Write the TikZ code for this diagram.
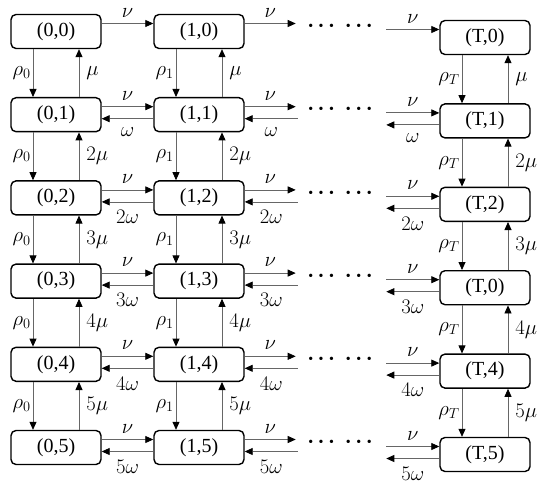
\documentclass[tikz,border=0pt]{standalone}
\usepackage{fontspec}
\setmainfont{Liberation Serif}
\usetikzlibrary{arrows.meta}

\begin{document}
\begin{tikzpicture}[
  x=1pt,y=1pt,
  state/.style={rectangle,rounded corners=5pt,draw=black,line width=1.4pt,
                minimum width=90pt,minimum height=34pt,inner sep=0pt,
                font=\fontsize{20}{22}\selectfont},
  arr/.style={-{Triangle[length=8pt,width=7pt,black]},line width=0.8pt,black!60},
  lbl/.style={text=black,font=\fontsize{21}{23}\selectfont,inner sep=2pt},
  dotlbl/.style={font=\fontsize{14}{16}\selectfont,inner sep=0pt},
]
\useasboundingbox (0,0) rectangle (548,-489);

% states: column 0, column 1 and column T
\foreach \i/\k in {0/0,1/1,2/2,3/0,4/4,5/5} {
  \node[state] (a\i) at (56,{-31.5-83.2*\i}) {(0,\i)};
  \node[state] (b\i) at (199,{-31.5-83.2*\i}) {(1,\i)};
  \node[state] (t\i) at (485,{-37.5-83.4*\i}) {(T,\k)};
  \node[dotlbl] (dots\i) at (340,{-27.5-83.2*\i})
    {•\hspace{5.5pt}•\hspace{5.5pt}•\hspace{12pt}•\hspace{5.5pt}•\hspace{5.5pt}•};
  % loose ends next to the dots
  \coordinate (bn\i) at ([xshift=51pt,yshift=8pt]b\i.east);
  \coordinate (bw\i) at ([xshift=53pt,yshift=-4pt]b\i.east);
  \coordinate (tn\i) at ([xshift=-53pt,yshift=8pt]t\i.west);
  \coordinate (tw\i) at ([xshift=-53pt,yshift=-4pt]t\i.west);
}

% vertical transitions
\foreach \i/\j/\k in {0/1/{},1/2/2,2/3/3,3/4/4,4/5/5} {
  \foreach \c/\r in {a/0,b/1,t/T} {
    \draw[arr] ([xshift=-23pt]\c\i.south) -- node[lbl,left=0pt]{$\rho_{\r}$}
      ([xshift=-23pt]\c\j.north);
    \draw[arr] ([xshift=23pt]\c\j.north) -- node[lbl,right=5pt]{$\k\mu$}
      ([xshift=23pt]\c\i.south);
  }
}

% top row: arrivals only
\draw[arr] ([yshift=8pt]a0.east) -- node[lbl,above=4pt]{$\nu$} ([yshift=8pt]b0.west);
\draw[arr] ([yshift=8pt]b0.east) -- node[lbl,above=4pt]{$\nu$} (bn0);
\draw[arr] (tn0) -- node[lbl,above=4pt]{$\nu$} ([yshift=8pt]t0.west);

% other rows: arrivals and departures
\foreach \i/\k in {1/{},2/2,3/3,4/4,5/5} {
  \draw[arr] ([yshift=8pt]a\i.east) -- node[lbl,above=4pt]{$\nu$} ([yshift=8pt]b\i.west);
  \draw[arr] ([yshift=-4pt]b\i.west) -- node[lbl,below=6pt]{$\k\omega$} ([yshift=-4pt]a\i.east);
  \draw[arr] ([yshift=8pt]b\i.east) -- node[lbl,above=4pt]{$\nu$} (bn\i);
  \draw[arr] (bw\i) -- node[lbl,below=6pt]{$\k\omega$} ([yshift=-4pt]b\i.east);
  \draw[arr] (tn\i) -- node[lbl,above=4pt]{$\nu$} ([yshift=8pt]t\i.west);
  \draw[arr] ([yshift=-4pt]t\i.west) -- node[lbl,below=6pt]{$\k\omega$} (tw\i);
}
\end{tikzpicture}
\end{document}
